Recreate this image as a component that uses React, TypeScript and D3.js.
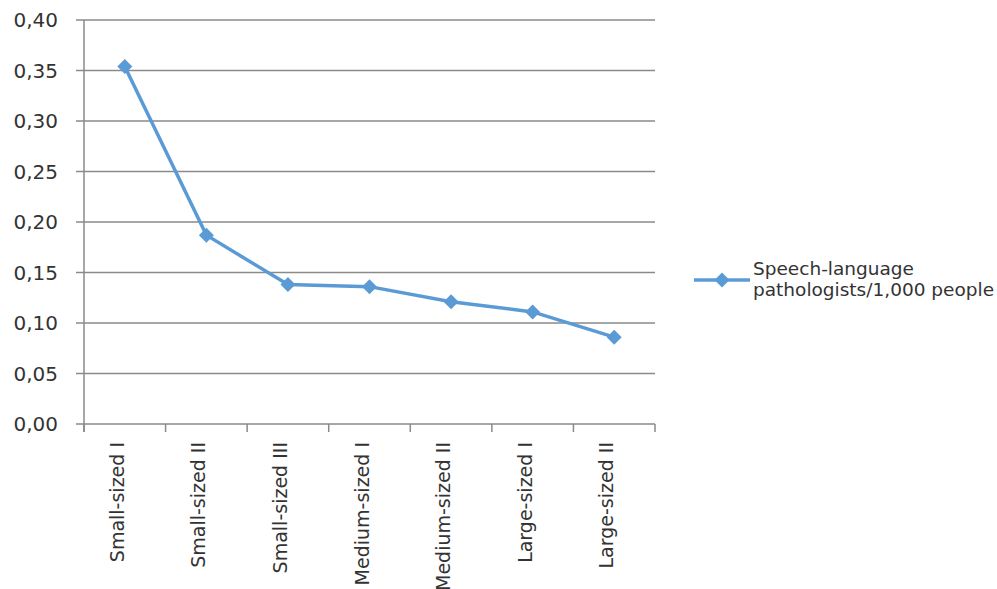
import React from "react";
import * as d3 from "d3";

const categories = [
  "Small-sized I",
  "Small-sized II",
  "Small-sized III",
  "Medium-sized I",
  "Medium-sized II",
  "Large-sized I",
  "Large-sized II",
];
const values = [0.354, 0.187, 0.138, 0.136, 0.121, 0.111, 0.086];
const yTicks = [0, 0.05, 0.1, 0.15, 0.2, 0.25, 0.3, 0.35, 0.4];
const seriesName = ["Speech-language", "pathologists/1,000 people"];

const W = 997;
const H = 589;
const left = 84;
const right = 655;
const top = 20;
const bottom = 424;
const color = "#5B9BD5";
const gridColor = "#8A8A8A";
const font = "Verdana, 'DejaVu Sans', sans-serif";

export default function App() {
  const x = d3.scaleBand<string>().domain(categories).range([left, right]);
  const y = d3.scaleLinear().domain([0, 0.4]).range([bottom, top]);
  const line = d3
    .line<number>()
    .x((_, i) => (x(categories[i]) as number) + x.bandwidth() / 2)
    .y((d) => y(d));
  const fmt = (v: number) => v.toFixed(2).replace(".", ",");
  const diamond = (cx: number, cy: number, r: number) =>
    `M${cx},${cy - r}L${cx + r},${cy}L${cx},${cy + r}L${cx - r},${cy}Z`;
  const boundaries = categories.map((c) => x(c) as number).concat([right]);

  return (
    <svg width={W} height={H} style={{ position: "absolute", left: 0, top: 0, background: "#fff" }}>
      {yTicks.map((t) => (
        <g key={t}>
          <line x1={left - 8} x2={right} y1={y(t)} y2={y(t)} stroke={gridColor} strokeWidth={1.5} />
          <text x={58} y={y(t)} dy="0.36em" textAnchor="end" fontFamily={font} fontSize={20} fill="#333">
            {fmt(t)}
          </text>
        </g>
      ))}
      <line x1={left} x2={left} y1={top} y2={bottom + 8} stroke={gridColor} strokeWidth={1.5} />
      {boundaries.map((b, i) => (
        <line key={i} x1={b} x2={b} y1={bottom} y2={bottom + 8} stroke={gridColor} strokeWidth={1.5} />
      ))}
      {categories.map((c) => {
        const cx = (x(c) as number) + x.bandwidth() / 2;
        return (
          <text
            key={c}
            transform={`translate(${cx - 1},442) rotate(-90)`}
            textAnchor="end"
            fontFamily={font}
            fontSize={19}
            fill="#333"
          >
            {c}
          </text>
        );
      })}
      <path d={line(values) || ""} fill="none" stroke={color} strokeWidth={3.5} />
      {values.map((v, i) => (
        <path
          key={i}
          d={diamond((x(categories[i]) as number) + x.bandwidth() / 2, y(v), 7.5)}
          fill={color}
        />
      ))}
      <line x1={694} x2={750} y1={280} y2={280} stroke={color} strokeWidth={3.5} />
      <path d={diamond(722, 280, 7.5)} fill={color} />
      <text fontFamily={font} fontSize={18.5} fill="#333">
        <tspan x={753} y={275}>{seriesName[0]}</tspan>
        <tspan x={753} y={296}>{seriesName[1]}</tspan>
      </text>
    </svg>
  );
}
